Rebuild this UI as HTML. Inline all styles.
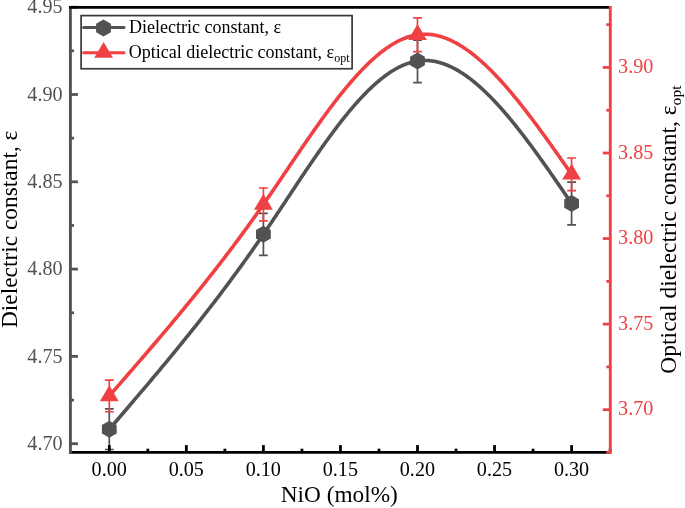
<!DOCTYPE html>
<html><head><meta charset="utf-8"><style>
html,body{margin:0;padding:0;background:#fff;overflow:hidden;}
svg{display:block;font-family:"Liberation Serif",serif;filter:blur(0.4px);}
</style></head><body>
<svg width="685" height="508" viewBox="0 0 685 508">
<rect width="685" height="508" fill="#fff"/>
<path d="M109.30,429.20 L110.58,427.70 L111.87,426.21 L113.15,424.71 L114.44,423.21 L115.72,421.72 L117.00,420.22 L118.29,418.72 L119.57,417.22 L120.86,415.72 L122.14,414.22 L123.43,412.72 L124.71,411.22 L125.99,409.72 L127.28,408.22 L128.56,406.72 L129.85,405.22 L131.13,403.71 L132.41,402.21 L133.70,400.70 L134.98,399.19 L136.27,397.69 L137.55,396.18 L138.84,394.67 L140.12,393.16 L141.40,391.64 L142.69,390.13 L143.97,388.61 L145.26,387.10 L146.54,385.58 L147.82,384.06 L149.11,382.54 L150.39,381.01 L151.68,379.49 L152.96,377.96 L154.25,376.44 L155.53,374.91 L156.81,373.37 L158.10,371.84 L159.38,370.30 L160.67,368.76 L161.95,367.22 L163.24,365.68 L164.52,364.14 L165.80,362.59 L167.09,361.04 L168.37,359.49 L169.66,357.94 L170.94,356.38 L172.22,354.82 L173.51,353.26 L174.79,351.69 L176.08,350.13 L177.36,348.56 L178.65,346.98 L179.93,345.41 L181.21,343.83 L182.50,342.25 L183.78,340.66 L185.07,339.08 L186.35,337.49 L187.63,335.89 L188.92,334.29 L190.20,332.69 L191.49,331.09 L192.77,329.48 L194.06,327.87 L195.34,326.26 L196.62,324.64 L197.91,323.02 L199.19,321.39 L200.48,319.77 L201.76,318.13 L203.04,316.50 L204.33,314.86 L205.61,313.21 L206.90,311.56 L208.18,309.91 L209.47,308.26 L210.75,306.60 L212.03,304.93 L213.32,303.26 L214.60,301.59 L215.89,299.91 L217.17,298.23 L218.45,296.54 L219.74,294.85 L221.02,293.16 L222.31,291.46 L223.59,289.75 L224.88,288.04 L226.16,286.33 L227.44,284.61 L228.73,282.89 L230.01,281.16 L231.30,279.42 L232.58,277.68 L233.86,275.94 L235.15,274.19 L236.43,272.44 L237.72,270.68 L239.00,268.91 L240.29,267.14 L241.57,265.37 L242.85,263.59 L244.14,261.80 L245.42,260.01 L246.71,258.21 L247.99,256.41 L249.27,254.60 L250.56,252.78 L251.84,250.96 L253.13,249.13 L254.41,247.30 L255.70,245.46 L256.98,243.62 L258.26,241.77 L259.55,239.91 L260.83,238.05 L262.12,236.18 L263.40,234.30 L264.68,232.42 L265.97,230.53 L267.25,228.64 L268.54,226.74 L269.82,224.83 L271.11,222.92 L272.39,221.01 L273.67,219.09 L274.96,217.17 L276.24,215.25 L277.53,213.32 L278.81,211.39 L280.09,209.46 L281.38,207.52 L282.66,205.59 L283.95,203.65 L285.23,201.71 L286.52,199.78 L287.80,197.84 L289.08,195.90 L290.37,193.96 L291.65,192.02 L292.94,190.09 L294.22,188.15 L295.50,186.22 L296.79,184.29 L298.07,182.36 L299.36,180.43 L300.64,178.51 L301.93,176.59 L303.21,174.68 L304.49,172.77 L305.78,170.86 L307.06,168.96 L308.35,167.06 L309.63,165.17 L310.91,163.29 L312.20,161.41 L313.48,159.54 L314.77,157.67 L316.05,155.81 L317.34,153.96 L318.62,152.12 L319.90,150.29 L321.19,148.46 L322.47,146.65 L323.76,144.84 L325.04,143.04 L326.32,141.25 L327.61,139.48 L328.89,137.71 L330.18,135.95 L331.46,134.21 L332.75,132.48 L334.03,130.76 L335.31,129.05 L336.60,127.35 L337.88,125.67 L339.17,124.00 L340.45,122.34 L341.73,120.70 L343.02,119.08 L344.30,117.46 L345.59,115.87 L346.87,114.29 L348.16,112.72 L349.44,111.17 L350.72,109.64 L352.01,108.12 L353.29,106.62 L354.58,105.14 L355.86,103.67 L357.14,102.23 L358.43,100.80 L359.71,99.39 L361.00,98.00 L362.28,96.63 L363.57,95.28 L364.85,93.95 L366.13,92.64 L367.42,91.35 L368.70,90.09 L369.99,88.84 L371.27,87.61 L372.55,86.41 L373.84,85.23 L375.12,84.08 L376.41,82.94 L377.69,81.83 L378.98,80.75 L380.26,79.69 L381.54,78.65 L382.83,77.64 L384.11,76.65 L385.40,75.69 L386.68,74.76 L387.96,73.85 L389.25,72.97 L390.53,72.11 L391.82,71.28 L393.10,70.49 L394.39,69.71 L395.67,68.97 L396.95,68.26 L398.24,67.57 L399.52,66.91 L400.81,66.29 L402.09,65.69 L403.37,65.12 L404.66,64.59 L405.94,64.08 L407.23,63.61 L408.51,63.17 L409.80,62.76 L411.08,62.38 L412.36,62.04 L413.65,61.73 L414.93,61.45 L416.22,61.21 L417.50,61.00 L418.79,60.82 L420.09,60.68 L421.38,60.58 L422.68,60.50 L423.97,60.46 L425.27,60.46 L426.56,60.49 L427.86,60.55 L429.15,60.64 L430.45,60.77 L431.74,60.93 L433.04,61.12 L434.33,61.34 L435.63,61.59 L436.92,61.87 L438.22,62.19 L439.51,62.53 L440.81,62.91 L442.10,63.31 L443.40,63.75 L444.69,64.21 L445.99,64.70 L447.28,65.22 L448.58,65.77 L449.87,66.35 L451.17,66.96 L452.46,67.59 L453.76,68.25 L455.05,68.93 L456.35,69.65 L457.64,70.38 L458.94,71.15 L460.23,71.94 L461.53,72.76 L462.82,73.60 L464.12,74.46 L465.41,75.35 L466.71,76.27 L468.00,77.20 L469.30,78.17 L470.59,79.15 L471.89,80.16 L473.18,81.19 L474.48,82.24 L475.77,83.32 L477.07,84.42 L478.36,85.53 L479.66,86.67 L480.95,87.83 L482.25,89.02 L483.54,90.22 L484.84,91.44 L486.13,92.68 L487.43,93.94 L488.72,95.22 L490.02,96.52 L491.31,97.84 L492.61,99.17 L493.90,100.53 L495.20,101.90 L496.49,103.29 L497.79,104.69 L499.08,106.12 L500.38,107.55 L501.67,109.01 L502.97,110.48 L504.26,111.97 L505.56,113.47 L506.85,114.99 L508.15,116.52 L509.44,118.07 L510.74,119.63 L512.03,121.20 L513.33,122.79 L514.62,124.39 L515.92,126.00 L517.21,127.63 L518.51,129.27 L519.80,130.92 L521.10,132.58 L522.39,134.26 L523.69,135.95 L524.98,137.64 L526.28,139.35 L527.57,141.07 L528.87,142.79 L530.16,144.53 L531.46,146.28 L532.75,148.03 L534.05,149.80 L535.34,151.57 L536.64,153.35 L537.93,155.14 L539.23,156.94 L540.52,158.75 L541.82,160.56 L543.11,162.38 L544.41,164.20 L545.70,166.03 L547.00,167.87 L548.29,169.71 L549.59,171.56 L550.88,173.41 L552.18,175.27 L553.47,177.13 L554.77,179.00 L556.06,180.87 L557.36,182.74 L558.65,184.62 L559.95,186.50 L561.24,188.38 L562.54,190.27 L563.83,192.15 L565.13,194.04 L566.42,195.93 L567.72,197.82 L569.01,199.71 L570.31,201.61 L571.60,203.50" fill="none" stroke="#525252" stroke-width="3.6" stroke-linejoin="round"/>
<path d="M109.30,395.90 L110.58,394.43 L111.87,392.96 L113.15,391.48 L114.44,390.01 L115.72,388.54 L117.00,387.06 L118.29,385.59 L119.57,384.12 L120.86,382.64 L122.14,381.17 L123.43,379.69 L124.71,378.22 L125.99,376.74 L127.28,375.26 L128.56,373.78 L129.85,372.31 L131.13,370.83 L132.41,369.35 L133.70,367.86 L134.98,366.38 L136.27,364.90 L137.55,363.41 L138.84,361.93 L140.12,360.44 L141.40,358.96 L142.69,357.47 L143.97,355.98 L145.26,354.48 L146.54,352.99 L147.82,351.50 L149.11,350.00 L150.39,348.50 L151.68,347.00 L152.96,345.50 L154.25,344.00 L155.53,342.49 L156.81,340.99 L158.10,339.48 L159.38,337.97 L160.67,336.45 L161.95,334.94 L163.24,333.42 L164.52,331.90 L165.80,330.38 L167.09,328.86 L168.37,327.33 L169.66,325.81 L170.94,324.28 L172.22,322.74 L173.51,321.21 L174.79,319.67 L176.08,318.13 L177.36,316.58 L178.65,315.04 L179.93,313.49 L181.21,311.94 L182.50,310.38 L183.78,308.83 L185.07,307.27 L186.35,305.70 L187.63,304.14 L188.92,302.57 L190.20,300.99 L191.49,299.42 L192.77,297.84 L194.06,296.26 L195.34,294.67 L196.62,293.08 L197.91,291.49 L199.19,289.89 L200.48,288.29 L201.76,286.69 L203.04,285.08 L204.33,283.47 L205.61,281.85 L206.90,280.23 L208.18,278.61 L209.47,276.98 L210.75,275.35 L212.03,273.72 L213.32,272.08 L214.60,270.44 L215.89,268.79 L217.17,267.14 L218.45,265.48 L219.74,263.82 L221.02,262.15 L222.31,260.49 L223.59,258.81 L224.88,257.13 L226.16,255.45 L227.44,253.76 L228.73,252.07 L230.01,250.37 L231.30,248.67 L232.58,246.96 L233.86,245.25 L235.15,243.54 L236.43,241.81 L237.72,240.09 L239.00,238.35 L240.29,236.62 L241.57,234.88 L242.85,233.13 L244.14,231.37 L245.42,229.62 L246.71,227.85 L247.99,226.08 L249.27,224.31 L250.56,222.53 L251.84,220.74 L253.13,218.95 L254.41,217.15 L255.70,215.35 L256.98,213.54 L258.26,211.72 L259.55,209.90 L260.83,208.07 L262.12,206.24 L263.40,204.40 L264.68,202.55 L265.97,200.70 L267.25,198.85 L268.54,196.98 L269.82,195.12 L271.11,193.25 L272.39,191.37 L273.67,189.49 L274.96,187.61 L276.24,185.72 L277.53,183.83 L278.81,181.94 L280.09,180.05 L281.38,178.15 L282.66,176.25 L283.95,174.36 L285.23,172.46 L286.52,170.56 L287.80,168.66 L289.08,166.76 L290.37,164.86 L291.65,162.96 L292.94,161.06 L294.22,159.17 L295.50,157.27 L296.79,155.38 L298.07,153.49 L299.36,151.61 L300.64,149.72 L301.93,147.84 L303.21,145.97 L304.49,144.09 L305.78,142.23 L307.06,140.37 L308.35,138.51 L309.63,136.66 L310.91,134.81 L312.20,132.97 L313.48,131.14 L314.77,129.31 L316.05,127.49 L317.34,125.68 L318.62,123.87 L319.90,122.08 L321.19,120.29 L322.47,118.51 L323.76,116.74 L325.04,114.98 L326.32,113.23 L327.61,111.49 L328.89,109.76 L330.18,108.04 L331.46,106.33 L332.75,104.64 L334.03,102.95 L335.31,101.28 L336.60,99.62 L337.88,97.97 L339.17,96.34 L340.45,94.72 L341.73,93.11 L343.02,91.52 L344.30,89.94 L345.59,88.38 L346.87,86.83 L348.16,85.29 L349.44,83.78 L350.72,82.28 L352.01,80.79 L353.29,79.32 L354.58,77.87 L355.86,76.44 L357.14,75.03 L358.43,73.63 L359.71,72.25 L361.00,70.89 L362.28,69.55 L363.57,68.23 L364.85,66.93 L366.13,65.64 L367.42,64.38 L368.70,63.14 L369.99,61.92 L371.27,60.73 L372.55,59.55 L373.84,58.40 L375.12,57.26 L376.41,56.16 L377.69,55.07 L378.98,54.01 L380.26,52.97 L381.54,51.96 L382.83,50.97 L384.11,50.00 L385.40,49.06 L386.68,48.15 L387.96,47.26 L389.25,46.40 L390.53,45.56 L391.82,44.75 L393.10,43.97 L394.39,43.21 L395.67,42.49 L396.95,41.79 L398.24,41.12 L399.52,40.48 L400.81,39.86 L402.09,39.28 L403.37,38.73 L404.66,38.20 L405.94,37.71 L407.23,37.25 L408.51,36.82 L409.80,36.42 L411.08,36.05 L412.36,35.71 L413.65,35.41 L414.93,35.14 L416.22,34.90 L417.50,34.70 L418.79,34.53 L420.09,34.39 L421.38,34.29 L422.68,34.22 L423.97,34.18 L425.27,34.18 L426.56,34.20 L427.86,34.26 L429.15,34.36 L430.45,34.48 L431.74,34.64 L433.04,34.82 L434.33,35.04 L435.63,35.29 L436.92,35.57 L438.22,35.88 L439.51,36.22 L440.81,36.58 L442.10,36.98 L443.40,37.41 L444.69,37.86 L445.99,38.35 L447.28,38.86 L448.58,39.39 L449.87,39.96 L451.17,40.55 L452.46,41.17 L453.76,41.82 L455.05,42.49 L456.35,43.19 L457.64,43.91 L458.94,44.66 L460.23,45.44 L461.53,46.24 L462.82,47.06 L464.12,47.91 L465.41,48.78 L466.71,49.68 L468.00,50.60 L469.30,51.54 L470.59,52.51 L471.89,53.49 L473.18,54.50 L474.48,55.53 L475.77,56.59 L477.07,57.66 L478.36,58.76 L479.66,59.87 L480.95,61.01 L482.25,62.17 L483.54,63.35 L484.84,64.54 L486.13,65.76 L487.43,66.99 L488.72,68.25 L490.02,69.52 L491.31,70.81 L492.61,72.12 L493.90,73.45 L495.20,74.79 L496.49,76.15 L497.79,77.53 L499.08,78.92 L500.38,80.33 L501.67,81.75 L502.97,83.20 L504.26,84.65 L505.56,86.12 L506.85,87.61 L508.15,89.11 L509.44,90.63 L510.74,92.15 L512.03,93.70 L513.33,95.25 L514.62,96.82 L515.92,98.40 L517.21,99.99 L518.51,101.60 L519.80,103.22 L521.10,104.85 L522.39,106.49 L523.69,108.14 L524.98,109.80 L526.28,111.47 L527.57,113.15 L528.87,114.85 L530.16,116.55 L531.46,118.26 L532.75,119.98 L534.05,121.71 L535.34,123.44 L536.64,125.19 L537.93,126.94 L539.23,128.70 L540.52,130.47 L541.82,132.24 L543.11,134.02 L544.41,135.81 L545.70,137.60 L547.00,139.40 L548.29,141.21 L549.59,143.02 L550.88,144.83 L552.18,146.65 L553.47,148.48 L554.77,150.30 L556.06,152.14 L557.36,153.97 L558.65,155.81 L559.95,157.65 L561.24,159.49 L562.54,161.34 L563.83,163.19 L565.13,165.04 L566.42,166.89 L567.72,168.74 L569.01,170.59 L570.31,172.45 L571.60,174.30" fill="none" stroke="#ef4143" stroke-width="3.6" stroke-linejoin="round"/>
<path d="M109.30,408.90V449.50M104.90,408.90H113.70M104.90,449.50H113.70" stroke="#525252" stroke-width="1.7" fill="none"/>
<polygon points="109.30,420.70 116.70,424.95 116.70,433.45 109.30,437.70 101.90,433.45 101.90,424.95" fill="#525252"/>
<path d="M263.40,213.30V255.30M259.00,213.30H267.80M259.00,255.30H267.80" stroke="#525252" stroke-width="1.7" fill="none"/>
<polygon points="263.40,225.80 270.80,230.05 270.80,238.55 263.40,242.80 256.00,238.55 256.00,230.05" fill="#525252"/>
<path d="M417.50,40.20V82.60M413.10,40.20H421.90M413.10,82.60H421.90" stroke="#525252" stroke-width="1.7" fill="none"/>
<polygon points="417.50,52.50 424.90,56.75 424.90,65.25 417.50,69.50 410.10,65.25 410.10,56.75" fill="#525252"/>
<path d="M571.60,182.20V224.80M567.20,182.20H576.00M567.20,224.80H576.00" stroke="#525252" stroke-width="1.7" fill="none"/>
<polygon points="571.60,195.00 579.00,199.25 579.00,207.75 571.60,212.00 564.20,207.75 564.20,199.25" fill="#525252"/>
<path d="M109.30,380.05V411.75M104.90,380.05H113.70M104.90,411.75H113.70" stroke="#ef4143" stroke-width="1.7" fill="none"/>
<polygon points="109.30,385.30 118.70,401.20 99.90,401.20" fill="#ef4143"/>
<path d="M263.40,188.00V220.80M259.00,188.00H267.80M259.00,220.80H267.80" stroke="#ef4143" stroke-width="1.7" fill="none"/>
<polygon points="263.40,193.80 272.80,209.70 254.00,209.70" fill="#ef4143"/>
<path d="M417.50,17.80V51.60M413.10,17.80H421.90M413.10,51.60H421.90" stroke="#ef4143" stroke-width="1.7" fill="none"/>
<polygon points="417.50,24.10 426.90,40.00 408.10,40.00" fill="#ef4143"/>
<path d="M571.60,158.00V190.60M567.20,158.00H576.00M567.20,190.60H576.00" stroke="#ef4143" stroke-width="1.7" fill="none"/>
<polygon points="571.60,163.70 581.00,179.60 562.20,179.60" fill="#ef4143"/>
<line x1="69.0" y1="452.4" x2="610.3" y2="452.4" stroke="#000" stroke-width="2.7"/>
<line x1="109.30" y1="452.4" x2="109.30" y2="445.09999999999997" stroke="#000" stroke-width="2.8"/>
<line x1="147.82" y1="452.4" x2="147.82" y2="448.7" stroke="#000" stroke-width="2.8"/>
<line x1="186.35" y1="452.4" x2="186.35" y2="445.09999999999997" stroke="#000" stroke-width="2.8"/>
<line x1="224.88" y1="452.4" x2="224.88" y2="448.7" stroke="#000" stroke-width="2.8"/>
<line x1="263.40" y1="452.4" x2="263.40" y2="445.09999999999997" stroke="#000" stroke-width="2.8"/>
<line x1="301.93" y1="452.4" x2="301.93" y2="448.7" stroke="#000" stroke-width="2.8"/>
<line x1="340.45" y1="452.4" x2="340.45" y2="445.09999999999997" stroke="#000" stroke-width="2.8"/>
<line x1="378.98" y1="452.4" x2="378.98" y2="448.7" stroke="#000" stroke-width="2.8"/>
<line x1="417.50" y1="452.4" x2="417.50" y2="445.09999999999997" stroke="#000" stroke-width="2.8"/>
<line x1="456.03" y1="452.4" x2="456.03" y2="448.7" stroke="#000" stroke-width="2.8"/>
<line x1="494.55" y1="452.4" x2="494.55" y2="445.09999999999997" stroke="#000" stroke-width="2.8"/>
<line x1="533.08" y1="452.4" x2="533.08" y2="448.7" stroke="#000" stroke-width="2.8"/>
<line x1="571.60" y1="452.4" x2="571.60" y2="445.09999999999997" stroke="#000" stroke-width="2.8"/>
<line x1="610.12" y1="452.4" x2="610.12" y2="448.7" stroke="#000" stroke-width="2.8"/>
<line x1="70.4" y1="6.0" x2="70.4" y2="453.75" stroke="#525252" stroke-width="2.9"/>
<line x1="70.4" y1="443.70" x2="77.9" y2="443.70" stroke="#525252" stroke-width="2.75"/>
<line x1="70.4" y1="400.05" x2="74.0" y2="400.05" stroke="#525252" stroke-width="2.75"/>
<line x1="70.4" y1="356.40" x2="77.9" y2="356.40" stroke="#525252" stroke-width="2.75"/>
<line x1="70.4" y1="312.75" x2="74.0" y2="312.75" stroke="#525252" stroke-width="2.75"/>
<line x1="70.4" y1="269.10" x2="77.9" y2="269.10" stroke="#525252" stroke-width="2.75"/>
<line x1="70.4" y1="225.45" x2="74.0" y2="225.45" stroke="#525252" stroke-width="2.75"/>
<line x1="70.4" y1="181.80" x2="77.9" y2="181.80" stroke="#525252" stroke-width="2.75"/>
<line x1="70.4" y1="138.15" x2="74.0" y2="138.15" stroke="#525252" stroke-width="2.75"/>
<line x1="70.4" y1="94.50" x2="77.9" y2="94.50" stroke="#525252" stroke-width="2.75"/>
<line x1="70.4" y1="50.85" x2="74.0" y2="50.85" stroke="#525252" stroke-width="2.75"/>
<line x1="70.4" y1="7.20" x2="77.9" y2="7.20" stroke="#525252" stroke-width="2.75"/>
<line x1="68.95" y1="7.3" x2="610.3" y2="7.3" stroke="#000" stroke-width="2.7"/>
<line x1="610.3" y1="452.48" x2="606.3" y2="452.48" stroke="#ef4143" stroke-width="2.75"/>
<line x1="610.3" y1="409.70" x2="602.8" y2="409.70" stroke="#ef4143" stroke-width="2.75"/>
<line x1="610.3" y1="366.92" x2="606.3" y2="366.92" stroke="#ef4143" stroke-width="2.75"/>
<line x1="610.3" y1="324.14" x2="602.8" y2="324.14" stroke="#ef4143" stroke-width="2.75"/>
<line x1="610.3" y1="281.36" x2="606.3" y2="281.36" stroke="#ef4143" stroke-width="2.75"/>
<line x1="610.3" y1="238.57" x2="602.8" y2="238.57" stroke="#ef4143" stroke-width="2.75"/>
<line x1="610.3" y1="195.79" x2="606.3" y2="195.79" stroke="#ef4143" stroke-width="2.75"/>
<line x1="610.3" y1="153.01" x2="602.8" y2="153.01" stroke="#ef4143" stroke-width="2.75"/>
<line x1="610.3" y1="110.23" x2="606.3" y2="110.23" stroke="#ef4143" stroke-width="2.75"/>
<line x1="610.3" y1="67.45" x2="602.8" y2="67.45" stroke="#ef4143" stroke-width="2.75"/>
<line x1="610.3" y1="24.67" x2="606.3" y2="24.67" stroke="#ef4143" stroke-width="2.75"/>
<line x1="610.3" y1="5.949999999999999" x2="610.3" y2="453.75" stroke="#ef4143" stroke-width="2.9"/>
<text transform="translate(109.20,476.27) scale(1,1.036)" text-anchor="middle" font-size="20.15" fill="#000">0.00</text>
<text transform="translate(186.25,476.27) scale(1,1.036)" text-anchor="middle" font-size="20.15" fill="#000">0.05</text>
<text transform="translate(263.30,476.27) scale(1,1.036)" text-anchor="middle" font-size="20.15" fill="#000">0.10</text>
<text transform="translate(340.35,476.27) scale(1,1.036)" text-anchor="middle" font-size="20.15" fill="#000">0.15</text>
<text transform="translate(417.40,476.27) scale(1,1.036)" text-anchor="middle" font-size="20.15" fill="#000">0.20</text>
<text transform="translate(494.45,476.27) scale(1,1.036)" text-anchor="middle" font-size="20.15" fill="#000">0.25</text>
<text transform="translate(571.50,476.27) scale(1,1.036)" text-anchor="middle" font-size="20.15" fill="#000">0.30</text>
<text transform="translate(62.60,449.87) scale(1,1.036)" text-anchor="end" font-size="20.15" fill="#525252">4.70</text>
<text transform="translate(62.60,362.57) scale(1,1.036)" text-anchor="end" font-size="20.15" fill="#525252">4.75</text>
<text transform="translate(62.60,275.27) scale(1,1.036)" text-anchor="end" font-size="20.15" fill="#525252">4.80</text>
<text transform="translate(62.60,187.97) scale(1,1.036)" text-anchor="end" font-size="20.15" fill="#525252">4.85</text>
<text transform="translate(62.60,100.67) scale(1,1.036)" text-anchor="end" font-size="20.15" fill="#525252">4.90</text>
<text transform="translate(62.60,13.37) scale(1,1.036)" text-anchor="end" font-size="20.15" fill="#525252">4.95</text>
<text transform="translate(618.10,415.30) scale(1,1.036)" text-anchor="start" font-size="20.15" fill="#ef4143">3.70</text>
<text transform="translate(618.10,329.74) scale(1,1.036)" text-anchor="start" font-size="20.15" fill="#ef4143">3.75</text>
<text transform="translate(618.10,244.18) scale(1,1.036)" text-anchor="start" font-size="20.15" fill="#ef4143">3.80</text>
<text transform="translate(618.10,158.61) scale(1,1.036)" text-anchor="start" font-size="20.15" fill="#ef4143">3.85</text>
<text transform="translate(618.10,73.05) scale(1,1.036)" text-anchor="start" font-size="20.15" fill="#ef4143">3.90</text>
<text x="339.3" y="502.4" text-anchor="middle" font-size="23.3" fill="#000">NiO (mol%)</text>
<text transform="translate(17.0,229.35) rotate(-90)" text-anchor="middle" font-size="23.4" fill="#000">Dielectric constant, ε</text>
<text transform="translate(675.9,229.55) rotate(-90)" text-anchor="middle" font-size="23.5" fill="#000">Optical dielectric constant, ε<tspan font-size="15.6" dy="5.0">opt</tspan></text>
<rect x="81.1" y="15.6" width="271" height="53.15" fill="#fff" stroke="#383838" stroke-width="1.7"/>
<line x1="83.6" y1="27.6" x2="124" y2="27.6" stroke="#525252" stroke-width="3" stroke-linecap="round"/>
<polygon points="103.50,19.40 110.90,23.65 110.90,32.15 103.50,36.40 96.10,32.15 96.10,23.65" fill="#525252"/>
<line x1="83.6" y1="52.7" x2="124" y2="52.7" stroke="#ef4143" stroke-width="3" stroke-linecap="round"/>
<polygon points="103.60,41.95 113.00,57.85 94.20,57.85" fill="#ef4143"/>
<text x="129" y="33.4" font-size="18" fill="#000">Dielectric constant, ε</text>
<text x="128.7" y="58.3" font-size="18" fill="#000">Optical dielectric constant, ε<tspan font-size="12" dy="3.8">opt</tspan></text>
</svg>
</body></html>
